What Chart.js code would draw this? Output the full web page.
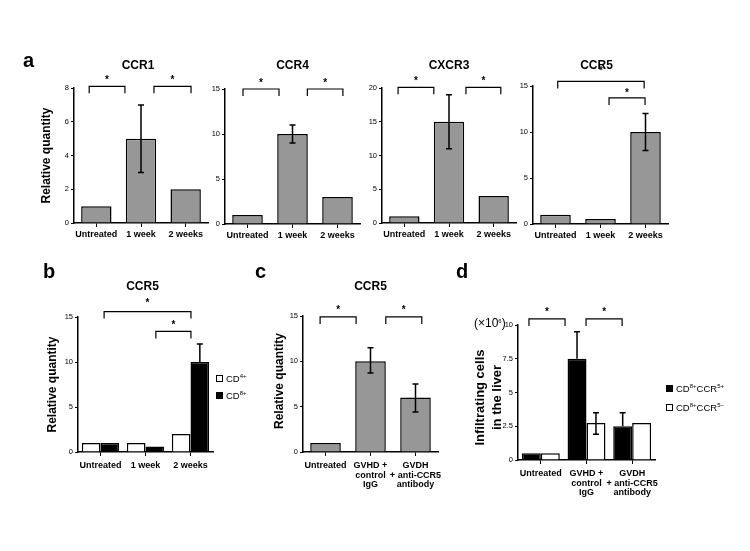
<!DOCTYPE html>
<html>
<head>
<meta charset="utf-8">
<script src="https://cdn.jsdelivr.net/npm/chart.js@4.4.1/dist/chart.umd.min.js"></script>
<style>
  body { margin: 0; background: #fff; font-family: "Liberation Sans", Arial, sans-serif; }
  #fig { position: relative; width: 750px; height: 551px; overflow: hidden; background: #fff; }
  #fig canvas { position: absolute; }
  .letter { position: absolute; font: bold 20px/20px "Liberation Sans", Arial, sans-serif; color: #000; }
  .legend { position: absolute; font: 9.5px/1 "Liberation Sans", Arial, sans-serif; color: #000; }
  .legend .row { display: flex; align-items: center; white-space: nowrap; }
  .legend .sw { width: 7px; height: 7px; box-sizing: border-box; border: 1.2px solid #000; margin-right: 3px; }
  .legend sup, .unit sup { font-size: 6px; vertical-align: 0; position: relative; top: -4px; }
  .unit { position: absolute; font: 12px/1 "Liberation Sans", Arial, sans-serif; color: #000; white-space: nowrap; }
</style>
</head>
<body>
<div id="fig">
  <canvas id="chart-ccr1"></canvas>
  <canvas id="chart-ccr4"></canvas>
  <canvas id="chart-cxcr3"></canvas>
  <canvas id="chart-ccr5"></canvas>
  <canvas id="chart-b"></canvas>
  <canvas id="chart-c"></canvas>
  <canvas id="chart-d"></canvas>
  <div class="letter" style="left:23px;top:50px">a</div>
  <div class="letter" style="left:43px;top:261px">b</div>
  <div class="letter" style="left:255px;top:261px">c</div>
  <div class="letter" style="left:456px;top:261px">d</div>
  <div class="legend" id="legend-b" style="left:216px;top:370px"></div>
  <div class="legend" id="legend-d" style="left:666px;top:379px"></div>
  <div class="unit" style="left:474px;top:317px">(×10<sup>6</sup>)</div>
</div>
<script>
// === Data ===
const timeLabels = ['Untreated', '1 week', '2 weeks'];
const treatLabels = ['Untreated', ['GVHD +', 'control', 'IgG'], ['GVDH', '+ anti-CCR5', 'antibody']];

const ccr1Vals = [1, 5, 2];
const ccr1ErrLo = [null, 3, null];
const ccr1ErrHi = [null, 7, null];

const ccr4Vals = [1, 10, 3];
const ccr4ErrLo = [null, 9, null];
const ccr4ErrHi = [null, 11, null];

const cxcr3Vals = [1, 15, 4];
const cxcr3ErrLo = [null, 11, null];
const cxcr3ErrHi = [null, 19, null];

const ccr5Vals = [1, 0.55, 10];
const ccr5ErrLo = [null, null, 8];
const ccr5ErrHi = [null, null, 12];

// panel b: CCR5 by subset
const cd4Vals = [1, 1, 2];
const cd8Vals = [1, 0.6, 10];
const cd8ErrHi = [null, null, 12];

// panel c: CCR5 by treatment
const treatVals = [1, 10, 6];
const treatErrLo = [null, 8.7, 4.4];
const treatErrHi = [null, 11.5, 7.5];

// panel d: infiltrating cells (x10^6)
const ccr5PosVals = [0.5, 7.5, 2.5];
const ccr5PosErrHi = [null, 9.5, 3.5];
const ccr5NegVals = [0.5, 2.75, 2.75];
const ccr5NegErrLo = [null, 1.9, null];
const ccr5NegErrHi = [null, 3.5, null];

// significance brackets: [from category, to category, level, star gap]
const ccr1Brackets = [[-0.16, 0.64, 8.1, 6], [1.29, 2.12, 8.1, 6]];
const ccr4Brackets = [[-0.1, 0.7, 15, 6], [1.33, 2.12, 15, 6]];
const cxcr3Brackets = [[-0.14, 0.66, 20.1, 6], [1.38, 2.16, 20.1, 6]];
const ccr5Brackets = [[0.05, 1.97, 15.5, 10], [1.19, 1.99, 13.7, 5]];
const bBrackets = [[0.08, 2.01, 15.6, 8], [1.23, 2.01, 13.4, 6]];
const cBrackets = [[-0.12, 0.68, 14.9, 7], [1.34, 2.14, 14.9, 7]];
const dBrackets = [[-0.26, 0.53, 10.45, 7], [0.99, 1.78, 10.45, 7]];

const bLegend = ['CD<sup>4+</sup>', 'CD<sup>8+</sup>'];
const dLegend = ['CD<sup>8+</sup>CCR<sup>5+</sup>', 'CD<sup>8+</sup>CCR<sup>5−</sup>'];

// === Styling ===
const GRAY = '#979797';
const FONT = '"Liberation Sans", Arial, sans-serif';
const Y_W = 55, PAD_T = 45, PAD_R = 22, X_H = 45;
Chart.defaults.font.family = FONT;
Chart.defaults.color = '#000';

// error bars, brackets, titles
const figureDecor = {
  id: 'figureDecor',
  afterDatasetsDraw(chart, args, opts) {
    const ctx = chart.ctx;
    const xs = chart.scales.x, ys = chart.scales.y;
    ctx.save();
    ctx.strokeStyle = '#000';
    ctx.fillStyle = '#000';
    ctx.lineWidth = 1.5;
    chart.data.datasets.forEach((ds, di) => {
      if (!ds.errHi) return;
      chart.getDatasetMeta(di).data.forEach((bar, i) => {
        const hi = ds.errHi[i];
        if (hi == null) return;
        const lo = ds.errLo ? ds.errLo[i] : null;
        const yHi = ys.getPixelForValue(hi);
        const yLo = ys.getPixelForValue(lo == null ? ds.data[i] : lo);
        ctx.beginPath();
        ctx.moveTo(bar.x, yLo);
        ctx.lineTo(bar.x, yHi);
        ctx.moveTo(bar.x - 3, yHi);
        ctx.lineTo(bar.x + 3, yHi);
        if (lo != null) {
          ctx.moveTo(bar.x - 3, yLo);
          ctx.lineTo(bar.x + 3, yLo);
        }
        ctx.stroke();
      });
    });

    ctx.lineWidth = 1.2;
    ctx.font = 'bold 10px ' + FONT;
    ctx.textAlign = 'center';
    ctx.textBaseline = 'middle';
    (opts.brackets || []).forEach(([a, b, v, gap]) => {
      const x1 = xs.getPixelForValue(a), x2 = xs.getPixelForValue(b), y = ys.getPixelForValue(v);
      ctx.beginPath();
      ctx.moveTo(x1, y + 7);
      ctx.lineTo(x1, y);
      ctx.lineTo(x2, y);
      ctx.lineTo(x2, y + 7);
      ctx.stroke();
      ctx.fillText('*', (x1 + x2) / 2, y - gap);
    });
    ctx.restore();
  },
  afterDraw(chart, args, opts) {
    const ctx = chart.ctx;
    const area = chart.chartArea;
    ctx.save();
    ctx.fillStyle = '#000';
    ctx.textAlign = 'center';
    if (opts.title) {
      ctx.font = 'bold 12px ' + FONT;
      ctx.textBaseline = 'alphabetic';
      ctx.fillText(opts.title, (area.left + area.right) / 2 + (opts.titleDx || 0), area.top - opts.titleGap);
    }
    if (opts.yTitle) {
      ctx.font = 'bold ' + (opts.yTitleSize || 12) + 'px ' + FONT;
      ctx.textBaseline = 'middle';
      opts.yTitle.forEach((line, i) => {
        ctx.save();
        ctx.translate(area.left - opts.yTitleOffsets[i], (area.top + area.bottom) / 2 + (opts.yTitleDy || 0));
        ctx.rotate(-Math.PI / 2);
        ctx.fillText(line, 0, 0);
        ctx.restore();
      });
    }
    ctx.restore();
  }
};

function axes(max, step, tickPad) {
  return {
    x: {
      grid: { display: true, drawOnChartArea: false, drawTicks: true, tickLength: 4, offset: false, color: '#000', lineWidth: 1 },
      border: { color: '#000', width: 1.5 },
      ticks: { font: { size: 9, weight: 'bold', lineHeight: 1.05 }, padding: tickPad, maxRotation: 0, autoSkip: false, color: '#000' },
      afterFit: s => { s.height = X_H; }
    },
    y: {
      min: 0, max: max,
      grid: { display: true, drawOnChartArea: false, drawTicks: true, tickLength: 3, color: '#000', lineWidth: 1 },
      border: { color: '#000', width: 1.5 },
      ticks: { stepSize: step, font: { size: 7.5 }, padding: 2, color: '#000' },
      afterFit: s => { s.width = Y_W; }
    }
  };
}

function grayBars(vals, lo, hi) {
  return { data: vals, errLo: lo, errHi: hi, backgroundColor: GRAY, borderColor: '#000', borderWidth: 1.5, barPercentage: 0.68, categoryPercentage: 1 };
}

function pairBar(vals, fill, lo, hi) {
  return { data: vals, errLo: lo, errHi: hi, backgroundColor: fill, borderColor: '#000', borderWidth: 1.5, barPercentage: 1, categoryPercentage: 0.83 };
}

function makeChart(id, box, labels, datasets, scales, decor) {
  const cv = document.getElementById(id);
  cv.width = box.r - box.l + Y_W + PAD_R;
  cv.height = box.b - box.t + PAD_T + X_H;
  cv.style.left = (box.l - Y_W) + 'px';
  cv.style.top = (box.t - PAD_T) + 'px';
  return new Chart(cv, {
    type: 'bar',
    data: { labels, datasets },
    options: {
      responsive: false,
      animation: false,
      devicePixelRatio: 1,
      layout: { padding: { top: PAD_T, right: PAD_R, left: 0, bottom: 0 } },
      plugins: { legend: { display: false }, tooltip: { enabled: false }, figureDecor: decor },
      scales
    },
    plugins: [figureDecor]
  });
}

function renderLegend(id, labels, fills) {
  document.getElementById(id).innerHTML = labels.map((l, i) =>
    `<div class="row" style="height:${id === 'legend-d' ? 19 : 17}px"><span class="sw" style="background:${fills[i]}"></span><span>${l}</span></div>`
  ).join('');
}

// === Panel a ===
makeChart('chart-ccr1', { l: 74, t: 88, r: 208, b: 223 }, timeLabels,
  [grayBars(ccr1Vals, ccr1ErrLo, ccr1ErrHi)], axes(8, 2, 3),
  { title: 'CCR1', titleGap: 19, titleDx: -3, brackets: ccr1Brackets, yTitle: ['Relative quantity'], yTitleOffsets: [27] });

makeChart('chart-ccr4', { l: 225, t: 89, r: 360, b: 224 }, timeLabels,
  [grayBars(ccr4Vals, ccr4ErrLo, ccr4ErrHi)], axes(15, 5, 3),
  { title: 'CCR4', titleGap: 20, brackets: ccr4Brackets });

makeChart('chart-cxcr3', { l: 382, t: 88, r: 516, b: 223 }, timeLabels,
  [grayBars(cxcr3Vals, cxcr3ErrLo, cxcr3ErrHi)], axes(20, 5, 3),
  { title: 'CXCR3', titleGap: 19, brackets: cxcr3Brackets });

makeChart('chart-ccr5', { l: 533, t: 86, r: 668, b: 224 }, timeLabels,
  [grayBars(ccr5Vals, ccr5ErrLo, ccr5ErrHi)], axes(15, 5, 3),
  { title: 'CCR5', titleGap: 17, titleDx: -4, brackets: ccr5Brackets });

// === Panel b ===
makeChart('chart-b', { l: 78, t: 317, r: 213, b: 452 }, timeLabels,
  [pairBar(cd4Vals, '#fff'), pairBar(cd8Vals, '#000', null, cd8ErrHi)], axes(15, 5, 5),
  { title: 'CCR5', titleGap: 27, titleDx: -3, brackets: bBrackets, yTitle: ['Relative quantity'], yTitleOffsets: [25] });
renderLegend('legend-b', bLegend, ['#fff', '#000']);

// === Panel c ===
makeChart('chart-c', { l: 303, t: 316, r: 438, b: 452 }, treatLabels,
  [grayBars(treatVals, treatErrLo, treatErrHi)], axes(15, 5, 5),
  { title: 'CCR5', titleGap: 26, brackets: cBrackets, yTitle: ['Relative quantity'], yTitleOffsets: [23], yTitleDy: -3 });

// === Panel d ===
makeChart('chart-d', { l: 518, t: 325, r: 655, b: 460 }, treatLabels,
  [pairBar(ccr5PosVals, '#000', null, ccr5PosErrHi), pairBar(ccr5NegVals, '#fff', ccr5NegErrLo, ccr5NegErrHi)], axes(10, 2.5, 5),
  { brackets: dBrackets, yTitle: ['Infiltrating cells', 'in the liver'], yTitleOffsets: [38, 21], yTitleSize: 13, yTitleDy: 5 });
renderLegend('legend-d', dLegend, ['#000', '#fff']);
</script>
</body>
</html>
